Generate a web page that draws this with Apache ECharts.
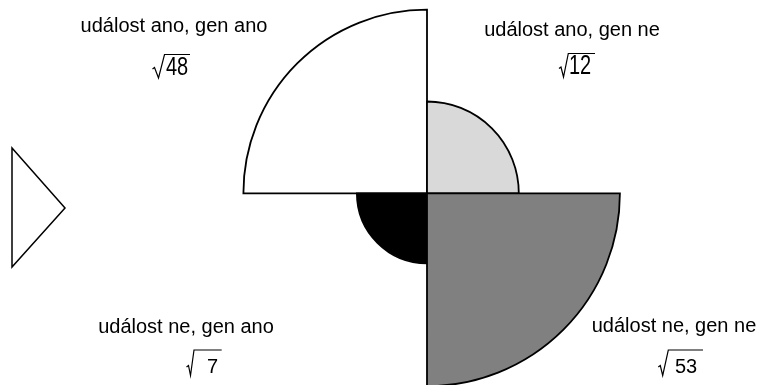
<!DOCTYPE html>
<html>
<head>
<meta charset="utf-8">
<script src="https://cdn.jsdelivr.net/npm/echarts@6/dist/echarts.min.js"></script>
<style>html,body{margin:0;padding:0;background:#fff;}#c{width:758px;height:385px;}</style>
</head>
<body>
<div id="c"></div>
<script>
// ---- data ----
var categories = ['událost ano, gen ano', 'událost ano, gen ne', 'událost ne, gen ano', 'událost ne, gen ne'];
var counts = [48, 12, 7, 53];
// quadrant of each cell: 0 = top-left, 1 = top-right, 2 = bottom-left, 3 = bottom-right
var quadrants = [0, 1, 2, 3];

// ---- styles ----
var fills = ['#ffffff', '#d9d9d9', '#000000', '#808080'];
var FONT = 'Liberation Sans, Arial, sans-serif';
var angles = [
  [Math.PI, 1.5 * Math.PI],
  [1.5 * Math.PI, 2 * Math.PI],
  [0.5 * Math.PI, Math.PI],
  [0, 0.5 * Math.PI]
];
// label layout (centre x, baseline-ish middle y)
var labelPos = [[174, 26], [572, 30], [186, 327], [674, 326]];
// sqrt decoration layout
var sqrtLayout = [
  {pts: [[152.5, 69], [154.5, 67.5], [158.5, 78], [164.5, 54.5], [190, 54.5]], tx: 166, ty: 67.2, sy: 1.33},
  {pts: [[559, 68.5], [561, 67], [563.5, 77], [568.3, 53.5], [595, 53.5]], tx: 569, ty: 66.7, sy: 1.37},
  {pts: [[186.5, 367], [188.5, 365.5], [190.5, 375.5], [194, 350], [221.7, 350]], tx: 207, ty: 367.5, sy: 1.05},
  {pts: [[658.3, 367], [660.3, 365.5], [662.7, 375.5], [668.3, 350], [703, 350]], tx: 675, ty: 367.2, sy: 1.0}
];

var graphics = [];
categories.forEach(function (name, i) {
  graphics.push({
    type: 'text', x: labelPos[i][0], y: labelPos[i][1], silent: true,
    style: {text: name, font: '20px ' + FONT, fill: '#000', textAlign: 'center', textVerticalAlign: 'middle'}
  });
  var s = sqrtLayout[i];
  graphics.push({
    type: 'polyline', silent: true,
    shape: {points: s.pts},
    style: {stroke: '#000', lineWidth: 1.2, fill: null}
  });
  graphics.push({
    type: 'text', x: s.tx, y: s.ty, scaleY: s.sy, originX: 0, originY: 0, silent: true,
    style: {text: String(counts[i]), font: '20px ' + FONT, fill: '#000', textAlign: 'left', textVerticalAlign: 'middle'}
  });
});
graphics.push({
  type: 'polygon', silent: true,
  shape: {points: [[12, 148], [12, 267], [65, 208]]},
  style: {fill: '#fff', stroke: '#000', lineWidth: 1.5}
});

var chart = echarts.init(document.getElementById('c'), null, {renderer: 'canvas'});
chart.setOption({
  animation: false,
  backgroundColor: '#fff',
  grid: {left: 162, width: 530, top: 1.55, height: 386.9},
  xAxis: {type: 'value', min: -10, max: 10, show: false},
  yAxis: {type: 'value', min: -7.3, max: 7.3, show: false},
  graphic: graphics,
  series: [{
    type: 'custom',
    clip: false,
    data: counts.map(function (c, i) { return [quadrants[i], c]; }),
    renderItem: function (params, api) {
      var q = api.value(0);
      var n = api.value(1);
      var c = api.coord([0, 0]);
      var r = api.size([Math.sqrt(n), 0])[0];
      return {
        type: 'sector',
        shape: {cx: c[0], cy: c[1], r0: 0, r: r, startAngle: angles[q][0], endAngle: angles[q][1], clockwise: true},
        style: {fill: fills[q], stroke: '#000', lineWidth: 1.8}
      };
    }
  }]
});
</script>
</body>
</html>
